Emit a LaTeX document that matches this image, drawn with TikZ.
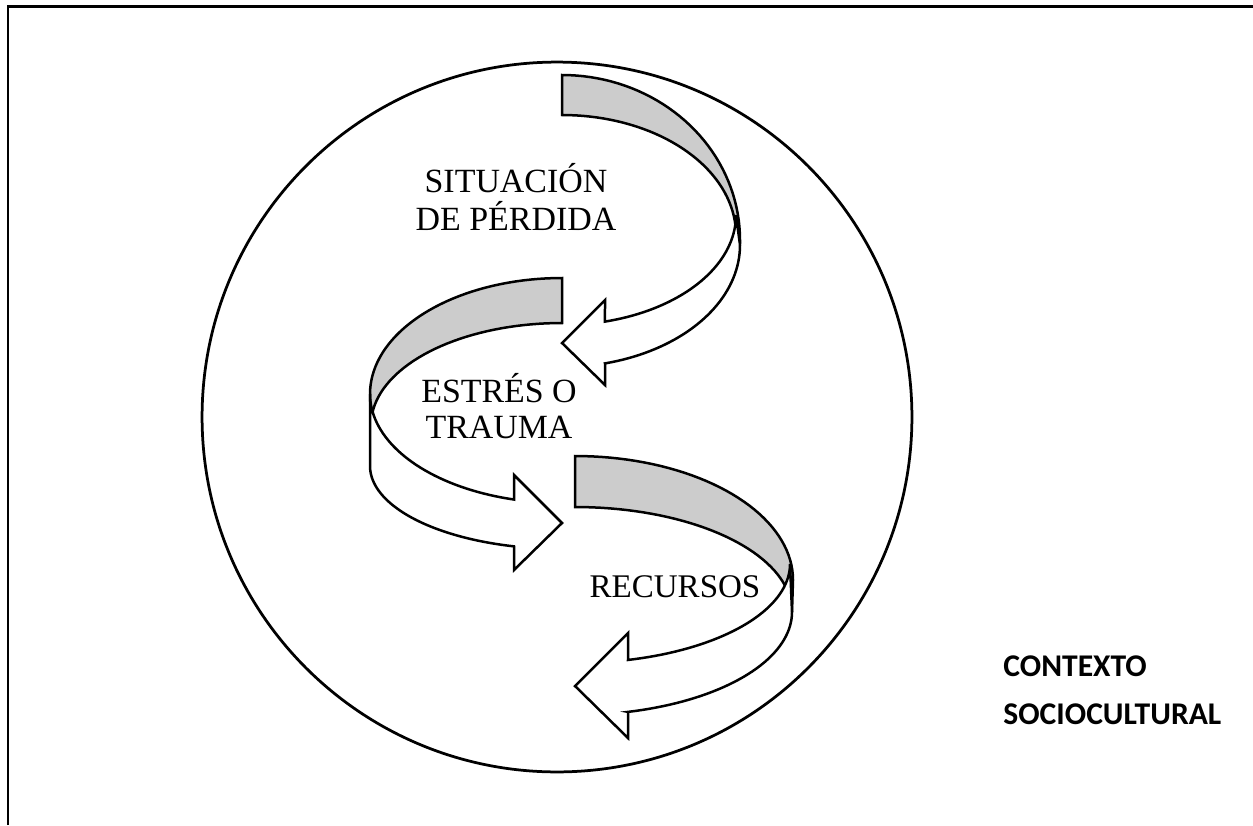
\documentclass[tikz,border=0pt]{standalone}
\usepackage{fontspec}
\setmainfont{Liberation Serif}
\newfontfamily\calib{Carlito}
\begin{document}
\begin{tikzpicture}[x=0.02cm,y=-0.02cm,
  ribbon/.style={draw=black,line width=0.05cm,line join=miter},
  backside/.style={ribbon,fill=black!20},
  frontside/.style={ribbon,fill=white},
  lbl/.style={inner sep=0pt,anchor=base,font=\fontsize{19.3}{22}\selectfont},
  ctx/.style={inner sep=0pt,anchor=base west,font=\calib\bfseries\fontsize{18}{22}\selectfont}]
\useasboundingbox (0,0) rectangle (1253,825);
% frame (top and left edges)
\draw[line width=0.06cm] (8,825) -- (8,6) -- (1253,6);
% circle
\draw[line width=0.055cm] (557,417) circle[radius=7.1cm];
% ---- arrow 1 (top, pointing left)
\path[backside] plot[domain=-90:0,samples=40,variable=\a] ({562+178*cos(\a)},{240+165*sin(\a)})
  -- plot[domain=0:-90,samples=40,variable=\a] ({562+174*cos(\a)},{235+120*sin(\a)}) -- cycle;
\path[frontside] plot[domain=0:75.7,samples=40,variable=\a] ({562+174*cos(\a)},{215+110*sin(\a)})
  -- (605,300) -- (562,343) -- (605,385) -- (605,363.4)
  -- plot[domain=76.02:0,samples=40,variable=\a] ({562+178*cos(\a)},{245+122*sin(\a)}) -- cycle;
% ---- arrow 2 (middle, pointing right)
\path[backside] plot[domain=-90:-180,samples=40,variable=\a] ({562+192*cos(\a)},{394+116*sin(\a)})
  -- plot[domain=-180:-90,samples=40,variable=\a] ({562+191*cos(\a)},{425+102*sin(\a)}) -- cycle;
\path[frontside] plot[domain=180:104.48,samples=40,variable=\a] ({562+192*cos(\a)},{394+109*sin(\a)})
  -- (514,475) -- (562,523) -- (514,570) -- (514,546.4)
  -- plot[domain=104.48:180,samples=40,variable=\a] ({562+192*cos(\a)},{466+83*sin(\a)}) -- cycle;
% ---- arrow 3 (bottom, pointing left)
\path[backside] plot[domain=-90:0,samples=40,variable=\a] ({575+218*cos(\a)},{580+124*sin(\a)})
  -- plot[domain=0:-90,samples=40,variable=\a] ({575+217*cos(\a)},{612+105*sin(\a)}) -- cycle;
\path[frontside] plot[domain=0:75.73,samples=40,variable=\a] ({575+215*cos(\a)},{564+99*sin(\a)})
  -- (628,633) -- (575,686) -- (628,738) -- (628,711.9)
  -- plot[domain=75.88:0,samples=40,variable=\a] ({575+217*cos(\a)},{612+103*sin(\a)}) -- cycle;
% labels
\node[lbl] (sit1) at (516,192) {SITUACIÓN};
\node[lbl] (sit2) at (516,230) {DE PÉRDIDA};
\node[lbl] (est1) at (499,402) {ESTRÉS O};
\node[lbl] (est2) at (499,438) {TRAUMA};
\node[lbl,font=\fontsize{18.8}{22}\selectfont] (rec) at (675,597) {RECURSOS};
\node[ctx] (ctx1) at (1003,676) {CONTEXTO};
\node[ctx] (ctx2) at (1003,724) {SOCIOCULTURAL};
\end{tikzpicture}
\end{document}
